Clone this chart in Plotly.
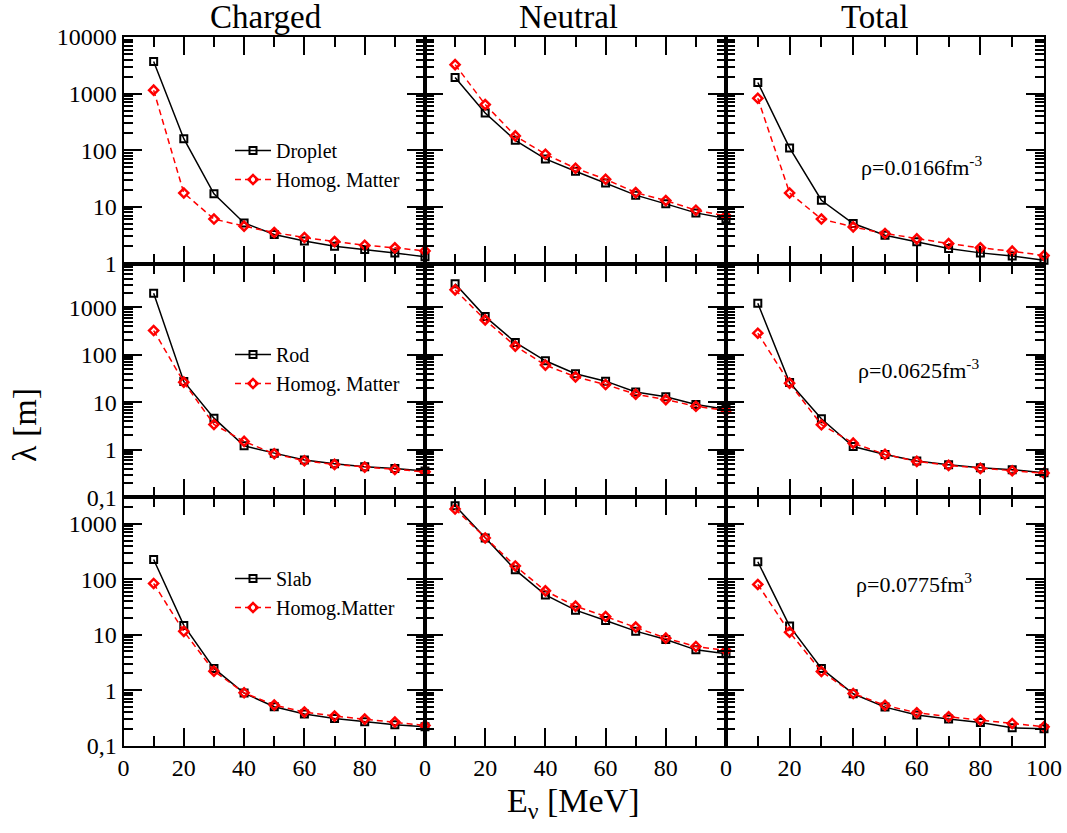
import plotly.graph_objects as go

# Neutrino energy grid [MeV]
energy = [10, 20, 30, 40, 50, 60, 70, 80, 90, 100]

# Mean free path lambda [m] -- droplet phase, rho = 0.0166 fm^-3
charged_droplet = [3700, 160, 17, 5.2, 3.25, 2.5, 2.02, 1.77, 1.54, 1.31]
charged_homog_1 = [1150, 17.6, 6.1, 4.56, 3.52, 2.88, 2.44, 2.1, 1.89, 1.67]
neutral_droplet = [1920, 456, 150, 70.3, 42.6, 26.5, 16.1, 11.3, 7.83, 6.2]
neutral_homog_1 = [3250, 641, 179, 85, 48.1, 30.7, 17.9, 12.9, 8.73, 6.92]
total_droplet = [1570, 110, 13.1, 5.08, 3.16, 2.41, 1.84, 1.54, 1.35, 1.14]
total_homog_1 = [828, 17.6, 6.1, 4.43, 3.39, 2.72, 2.25, 1.89, 1.65, 1.38]

# rod phase, rho = 0.0625 fm^-3
charged_rod = [1970, 27.4, 4.63, 1.21, 0.85, 0.607, 0.508, 0.439, 0.405, 0.356]
charged_homog_2 = [323, 26.5, 3.41, 1.5, 0.824, 0.587, 0.492, 0.432, 0.386, 0.344]
neutral_rod = [3110, 635, 182, 74.6, 39.7, 27.8, 16.5, 13.0, 8.93, 7.11]
neutral_homog_2 = [2320, 540, 152, 60.5, 34.3, 23.6, 14.8, 11.4, 8.23, 6.67]
total_rod = [1210, 26, 4.48, 1.17, 0.798, 0.578, 0.484, 0.418, 0.38, 0.328]
total_homog_2 = [284, 25.2, 3.36, 1.38, 0.8, 0.569, 0.469, 0.406, 0.362, 0.323]

# slab phase, rho = 0.0775 fm^-3
charged_slab = [228, 14.7, 2.46, 0.883, 0.5, 0.369, 0.308, 0.268, 0.237, 0.218]
charged_homog_3 = [84, 11.5, 2.2, 0.895, 0.536, 0.401, 0.34, 0.3, 0.265, 0.23]
neutral_slab = [2130, 557, 148, 52.3, 27.7, 18.0, 11.6, 8.19, 5.33, 4.52]
neutral_homog_3 = [1860, 557, 174, 61.8, 32.7, 21.3, 13.7, 8.66, 6.13, 5.19]
total_slab = [207, 14.3, 2.46, 0.859, 0.493, 0.354, 0.3, 0.261, 0.209, 0.2]
total_homog_3 = [80.7, 11.1, 2.17, 0.87, 0.529, 0.39, 0.33, 0.287, 0.25, 0.218]

column_titles = ["Charged", "Neutral", "Total"]
phase_names = ["Droplet", "Rod", "Slab"]
homog_names = ["Homog. Matter", "Homog. Matter", "Homog.Matter"]
density_labels = ["ρ=0.0166fm<sup>-3</sup>", "ρ=0.0625fm<sup>-3</sup>", "ρ=0.0775fm<sup>3</sup>"]

x_ticks = [0, 20, 40, 60, 80, 100]
y_ticks = [0.1, 1, 10, 100, 1000, 10000]
y_tick_text = ["0,1", "1", "10", "100", "1000", "10000"]

phase_data = [
    [(charged_droplet, charged_homog_1), (neutral_droplet, neutral_homog_1), (total_droplet, total_homog_1)],
    [(charged_rod, charged_homog_2), (neutral_rod, neutral_homog_2), (total_rod, total_homog_2)],
    [(charged_slab, charged_homog_3), (neutral_slab, neutral_homog_3), (total_slab, total_homog_3)],
]

W, H = 1067, 833
FONT = "Liberation Serif"

col_px = [(123.5, 425.0), (425.0, 726.0), (726.0, 1044.0)]
row_px = [(37.0, 263.5), (263.5, 497.3), (497.3, 745.5)]
row_ranges = [[0, 4], [-1, 3.92], [-1, 3.48]]

def fx(p):
    return p / W

def fy(p):
    return 1 - p / H

minor_y = [m * 10 ** d for d in range(-1, 4) for m in range(2, 10)]

fig = go.Figure()
layout = {}
legend_names = ["legend", "legend2", "legend3"]

for r in range(3):
    for c in range(3):
        k = r * 3 + c + 1
        xa = "x" if k == 1 else f"x{k}"
        ya = "y" if k == 1 else f"y{k}"
        phase_vals, homog_vals = phase_data[r][c]
        show = c == 0
        fig.add_trace(go.Scatter(
            x=energy, y=phase_vals, xaxis=xa, yaxis=ya,
            mode="lines+markers", name=phase_names[r],
            line=dict(color="black", width=1.5),
            marker=dict(symbol="square-open", size=7, color="black", line=dict(width=2)),
            showlegend=show, legend=legend_names[r], cliponaxis=False,
        ))
        fig.add_trace(go.Scatter(
            x=energy, y=homog_vals, xaxis=xa, yaxis=ya,
            mode="lines+markers", name=homog_names[r],
            line=dict(color="red", width=1.5, dash="6px,4px"),
            marker=dict(symbol="diamond-open", size=7, color="red", line=dict(width=2.5)),
            showlegend=show, legend=legend_names[r], cliponaxis=False,
        ))

        x0, x1 = col_px[c]
        y0, y1 = row_px[r]
        xname = "xaxis" if k == 1 else f"xaxis{k}"
        yname = "yaxis" if k == 1 else f"yaxis{k}"
        bottom_row = r == 2
        layout[xname] = dict(
            domain=[fx(x0), fx(x1)], anchor=ya, range=[0, 100],
            tickmode="array", tickvals=x_ticks,
            ticktext=["0", "20", "40", "60", "80", "100" if c == 2 else ""],
            showticklabels=bottom_row,
            ticks="inside", ticklen=18, tickwidth=1.5, tickcolor="black",
            minor=dict(tickmode="array", tickvals=[10, 30, 50, 70, 90], ticks="inside",
                       ticklen=10, tickwidth=1.5, tickcolor="black", showgrid=False),
            showline=True, linecolor="black", linewidth=2, mirror="ticks",
            showgrid=False, zeroline=False, automargin=False,
            tickfont=dict(family=FONT, size=24, color="black"),
        )
        layout[yname] = dict(
            domain=[fy(y1), fy(y0)], anchor=xa, type="log", range=row_ranges[r],
            tickmode="array", tickvals=y_ticks, ticktext=y_tick_text,
            showticklabels=c == 0,
            ticks="inside", ticklen=18, tickwidth=1.5, tickcolor="black",
            minor=dict(tickmode="array", tickvals=minor_y, ticks="inside",
                       ticklen=9, tickwidth=1.5, tickcolor="black", showgrid=False),
            showline=True, linecolor="black", linewidth=2, mirror="ticks",
            showgrid=False, zeroline=False, automargin=False,
            tickfont=dict(family=FONT, size=24, color="black"),
        )

# vertical midpoint of each two-row legend
legend_mid = [165, 369, 593]
for r in range(3):
    layout[legend_names[r]] = dict(
        x=fx(230), y=fy(legend_mid[r] - 34), xanchor="left", yanchor="top",
        bgcolor="rgba(0,0,0,0)", borderwidth=0,
        font=dict(family=FONT, size=20, color="black"),
        tracegroupgap=0, itemwidth=36,
    )

annotations = []
title_x = [266, 568, 874]
for c in range(3):
    annotations.append(dict(
        text=column_titles[c], x=fx(title_x[c]), y=fy(17), xref="paper", yref="paper",
        showarrow=False, xanchor="center", yanchor="middle",
        font=dict(family=FONT, size=33, color="black"),
    ))
density_pos = [(921, 166), (918, 369), (914, 583)]
for r in range(3):
    px, py = density_pos[r]
    annotations.append(dict(
        text=density_labels[r], x=fx(px), y=fy(py), xref="paper", yref="paper",
        showarrow=False, xanchor="center", yanchor="middle",
        font=dict(family=FONT, size=22, color="black"),
    ))
annotations.append(dict(
    text="E<sub>ν</sub> [MeV]", x=fx(573), y=fy(803), xref="paper", yref="paper",
    showarrow=False, xanchor="center", yanchor="middle",
    font=dict(family=FONT, size=34, color="black"),
))
annotations.append(dict(
    text="λ [m]", x=fx(24), y=fy(425), xref="paper", yref="paper",
    showarrow=False, xanchor="center", yanchor="middle", textangle=-90,
    font=dict(family=FONT, size=34, color="black"),
))

fig.update_layout(
    width=W, height=H, margin=dict(l=0, r=0, t=0, b=0, autoexpand=False),
    paper_bgcolor="white", plot_bgcolor="white",
    annotations=annotations, **layout,
)

fig.write_html("out.html")
